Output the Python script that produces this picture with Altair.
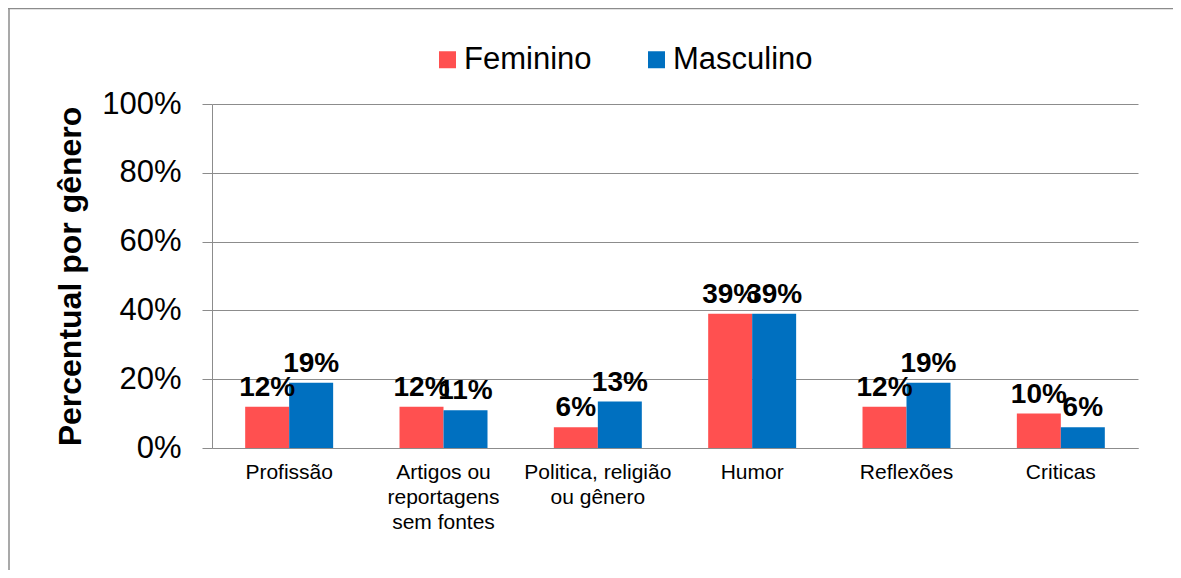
import altair as alt
import pandas as pd

categories = [
    "Profissão",
    "Artigos ou\nreportagens\nsem fontes",
    "Politica, religião\nou gênero",
    "Humor",
    "Reflexões",
    "Criticas",
]
series = ["Feminino", "Masculino"]
feminino = [12, 12, 6, 39, 12, 10]
masculino = [19, 11, 13.5, 39, 19, 6]
label_f = ["12%", "12%", "6%", "39%", "12%", "10%"]
label_m = ["19%", "11%", "13%", "39%", "19%", "6%"]
colors = ["#FF5050", "#0070C0"]

rows = []
for i, c in enumerate(categories):
    rows.append({"cat": c, "gen": series[0], "val": feminino[i], "lab": label_f[i]})
    rows.append({"cat": c, "gen": series[1], "val": masculino[i], "lab": label_m[i]})
df = pd.DataFrame(rows)

FONT = "Liberation Sans"
GRAY = "#8c8c8c"

base = alt.Chart(df).encode(
    x=alt.X(
        "cat:N",
        sort=categories,
        scale=alt.Scale(paddingInner=0.43, paddingOuter=0.215),
        axis=alt.Axis(
            title=None,
            labelAngle=0,
            labelExpr="split(datum.value, '\\n')",
            labelFont=FONT,
            labelFontSize=21,
            labelColor="#000000",
            labelLineHeight=25,
            labelPadding=13,
            ticks=False,
            domainColor=GRAY,
            labelBaseline="top",
        ),
    ),
    xOffset=alt.XOffset("gen:N", sort=series),
)

bars = base.mark_bar().encode(
    y=alt.Y(
        "val:Q",
        scale=alt.Scale(domain=[0, 100]),
        axis=alt.Axis(
            values=[0, 20, 40, 60, 80, 100],
            labelExpr="datum.value + '%'",
            title="Percentual por gênero",
            titleFont=FONT,
            titleFontSize=32,
            titleFontWeight="bold",
            titleColor="#000000",
            titlePadding=14,
            labelFont=FONT,
            labelFontSize=31,
            labelColor="#000000",
            labelPadding=21,
            tickSize=10,
            tickColor=GRAY,
            domainColor=GRAY,
            gridColor=GRAY,
        ),
    ),
    color=alt.Color(
        "gen:N",
        sort=series,
        scale=alt.Scale(domain=series, range=colors),
        legend=alt.Legend(
            title=None,
            orient="none",
            legendX=220,
            legendY=-60,
            direction="horizontal",
            symbolType="square",
            symbolSize=289,
            symbolStrokeWidth=0,
            labelFont=FONT,
            labelFontSize=31,
            labelColor="#000000",
            labelOffset=1,
            columnPadding=49,
        ),
    ),
)

texts = base.mark_text(
    font=FONT, fontSize=28, fontWeight="bold", color="#000000",
    baseline="bottom", dy=-5,
).encode(
    y=alt.Y("val:Q"),
    text="lab:N",
)

frame = alt.Chart(alt.Data(values=[{"k": 1}]))
top_line = frame.mark_rule(stroke=GRAY, strokeWidth=1.5).encode(
    x=alt.value(-204), x2=alt.value(1400), y=alt.value(-95.5)
)
left_line = frame.mark_rule(stroke=GRAY, strokeWidth=1.5).encode(
    x=alt.value(-203), y=alt.value(-96), y2=alt.value(1000)
)

chart = alt.layer(bars, texts, top_line, left_line).properties(
    width=926,
    height=344,
    autosize=alt.AutoSizeParams(type="none"),
    padding={"left": 204, "top": 96, "right": 35, "bottom": 122},
).configure_view(stroke=None).configure_axis(grid=True).configure_axisX(grid=False)

chart.save("out.html", embed_options={"renderer": "svg", "actions": False})
